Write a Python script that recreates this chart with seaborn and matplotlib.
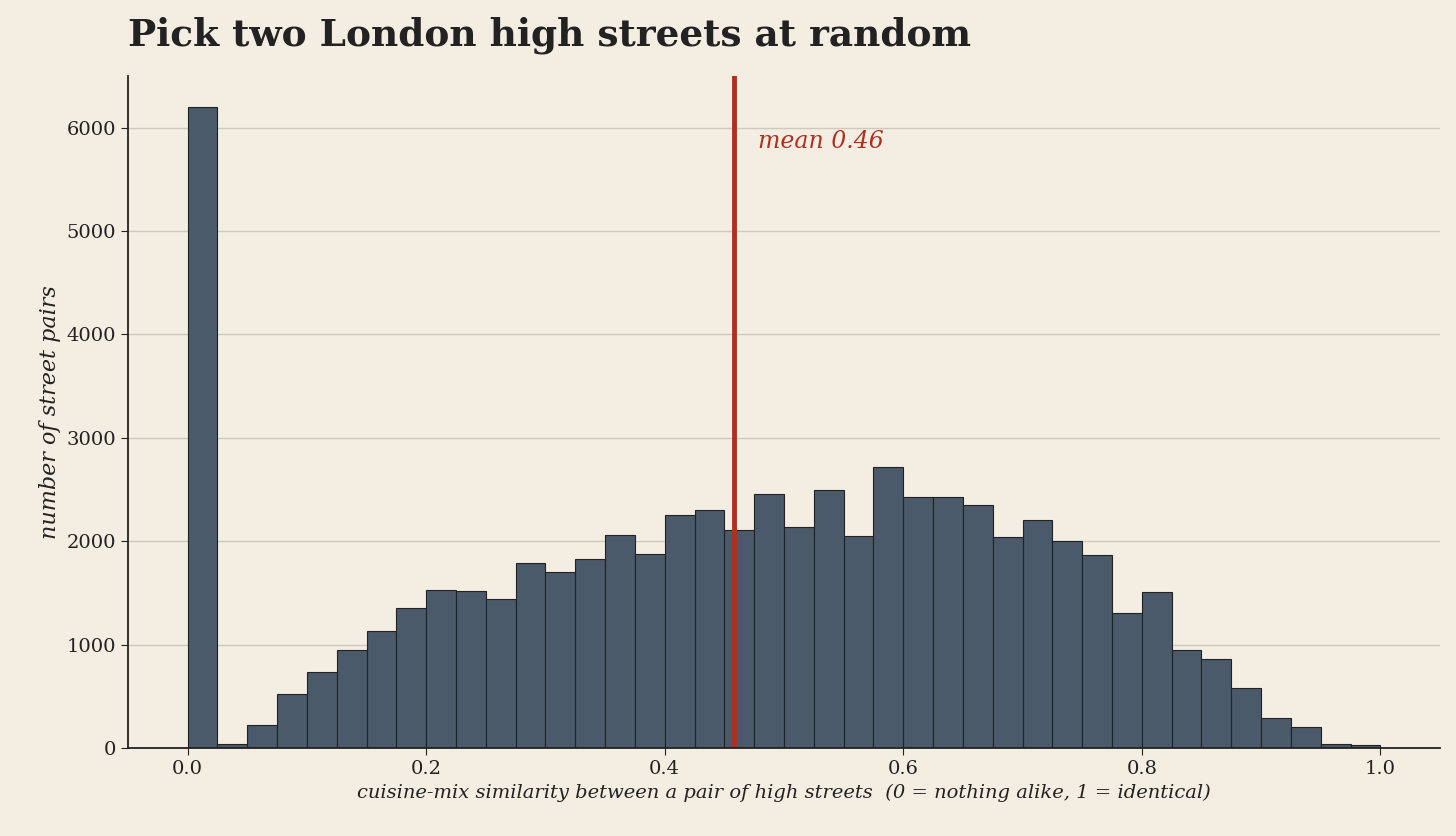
import numpy as np
import pandas as pd
import matplotlib
matplotlib.use("Agg")
import matplotlib.pyplot as plt
import seaborn as sns

bin_edges = [i / 40 for i in range(41)]
counts = [6200, 40, 225, 520, 735, 950, 1135, 1355, 1530, 1520,
          1445, 1785, 1705, 1830, 2065, 1880, 2250, 2300, 2105, 2460,
          2140, 2500, 2055, 2715, 2425, 2425, 2355, 2045, 2210, 2000,
          1870, 1310, 1510, 950, 860, 580, 290, 200, 40, 25]
mean_value = 0.458

bg = "#f3ede2"
sns.set_style("white")
plt.rcParams["font.family"] = ["DejaVu Serif"]

fig = plt.figure(figsize=(14.56, 8.36), dpi=100, facecolor=bg)
ax = fig.add_axes([128 / 1456, 1 - 748 / 836, 1312 / 1456, 672 / 836])
ax.set_facecolor(bg)

df = pd.DataFrame({
    "similarity": [(bin_edges[i] + bin_edges[i + 1]) / 2 for i in range(40)],
    "pairs": counts,
})
sns.histplot(data=df, x="similarity", weights="pairs", bins=bin_edges, ax=ax,
             color="#4a5a6a", edgecolor="#222222", linewidth=0.8, alpha=1)

ax.axvline(mean_value, color="#b03020", lw=3.5)
ax.text(mean_value + 0.02, 5870, f"mean {mean_value:.2f}", color="#b03020",
        fontsize=17, style="italic", va="center")

ax.set_xlim(-0.05, 1.05)
ax.set_ylim(0, 6500)
ax.set_yticks(range(0, 7000, 1000))
ax.set_xticks([0, 0.2, 0.4, 0.6, 0.8, 1.0])
ax.yaxis.grid(True, color="#cfc8bc", lw=1)
ax.set_axisbelow(True)
for s in ["top", "right"]:
    ax.spines[s].set_visible(False)
for s in ["left", "bottom"]:
    ax.spines[s].set_color("#222222")
    ax.spines[s].set_linewidth(1.3)
ax.tick_params(axis="both", labelsize=14, colors="#222222", length=5, left=True, bottom=True)

ax.set_xlabel("cuisine-mix similarity between a pair of high streets  (0 = nothing alike, 1 = identical)",
              fontsize=14, style="italic", color="#222222")
ax.set_ylabel("number of street pairs", fontsize=16, style="italic", color="#222222")
fig.text(128 / 1456, 1 - 35 / 836, "Pick two London high streets at random",
         fontsize=27, fontweight="bold", color="#222222", va="center")

fig.savefig("out.png", dpi=100, facecolor=bg)
